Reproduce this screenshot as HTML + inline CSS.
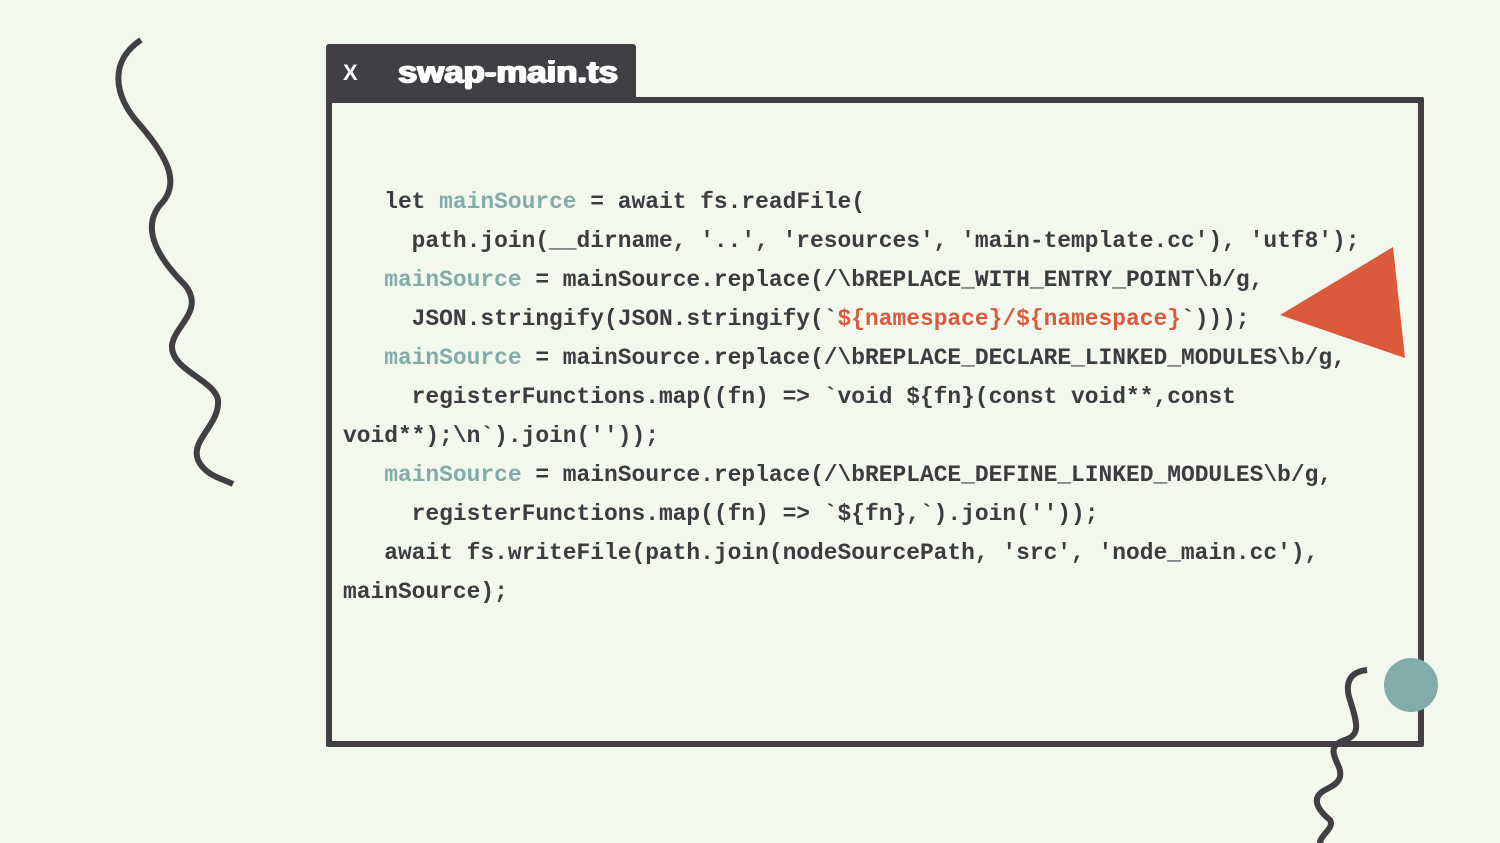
<!DOCTYPE html>
<html><head><meta charset="utf-8"><style>
html,body{margin:0;padding:0}
body{width:1500px;height:843px;background:#f3f8ef;position:relative;overflow:hidden;font-family:"Liberation Mono",monospace}
.frame{position:absolute;left:326px;top:97px;width:1086px;height:638px;border:6px solid #413e44;border-radius:2px}
.tab{position:absolute;left:326px;top:44px;width:310px;height:56px;background:#413e44;border-radius:3px 3px 0 0;color:#fff;font-family:"Liberation Sans",sans-serif;font-weight:bold}
.tab .x{position:absolute;left:17px;top:16px;font-size:22px}
.tab .t{position:absolute;left:72px;top:10px;font-size:31px;font-weight:900;transform:scaleX(1.12);transform-origin:left;text-shadow:1px 0 0 #fff,-1px 0 0 #fff,0 1px 0 #fff}
pre{position:absolute;left:343px;top:183px;margin:0;font-family:"Liberation Mono",monospace;font-weight:bold;font-size:22.9px;line-height:39px;color:#3d3a40}
.b{color:#82aca9}.o{color:#dc5a3c}
</style></head><body>
<svg width="1500" height="843" style="position:absolute;left:0;top:0">
<path d="M141,40 C110,60 112,95 140,125 C170,160 180,185 160,205 C140,230 160,260 185,285 C205,310 175,325 172,345 C170,370 215,380 218,400 C220,425 190,440 198,460 C205,475 220,478 233,484" fill="none" stroke="#413e44" stroke-width="6"/>
<polygon points="1393,247 1280,315 1405,358" fill="#dc5a3c"/>
</svg>
<div class="frame"></div>
<div class="tab"><span class="x">X</span><span class="t">swap-main.ts</span></div>
<pre>   let <span class="b">mainSource</span> = await fs.readFile(
     path.join(__dirname, '..', 'resources', 'main-template.cc'), 'utf8');
   <span class="b">mainSource</span> = mainSource.replace(/\bREPLACE_WITH_ENTRY_POINT\b/g,
     JSON.stringify(JSON.stringify(`<span class="o">${namespace}/${namespace}</span>`)));
   <span class="b">mainSource</span> = mainSource.replace(/\bREPLACE_DECLARE_LINKED_MODULES\b/g,
     registerFunctions.map((fn) =&gt; `void ${fn}(const void**,const
void**);\n`).join(''));
   <span class="b">mainSource</span> = mainSource.replace(/\bREPLACE_DEFINE_LINKED_MODULES\b/g,
     registerFunctions.map((fn) =&gt; `${fn},`).join(''));
   await fs.writeFile(path.join(nodeSourcePath, 'src', 'node_main.cc'),
mainSource);</pre>
<svg width="1500" height="843" style="position:absolute;left:0;top:0">
<circle cx="1411" cy="685" r="27" fill="#82aca9"/>
<path d="M1367,670 C1348,672 1345,685 1350,700 C1358,725 1360,735 1345,740 C1330,745 1332,752 1338,765 C1345,780 1335,785 1325,790 C1310,798 1318,810 1330,820 C1335,828 1320,835 1320,843" fill="none" stroke="#413e44" stroke-width="6"/>
</svg>
</body></html>
